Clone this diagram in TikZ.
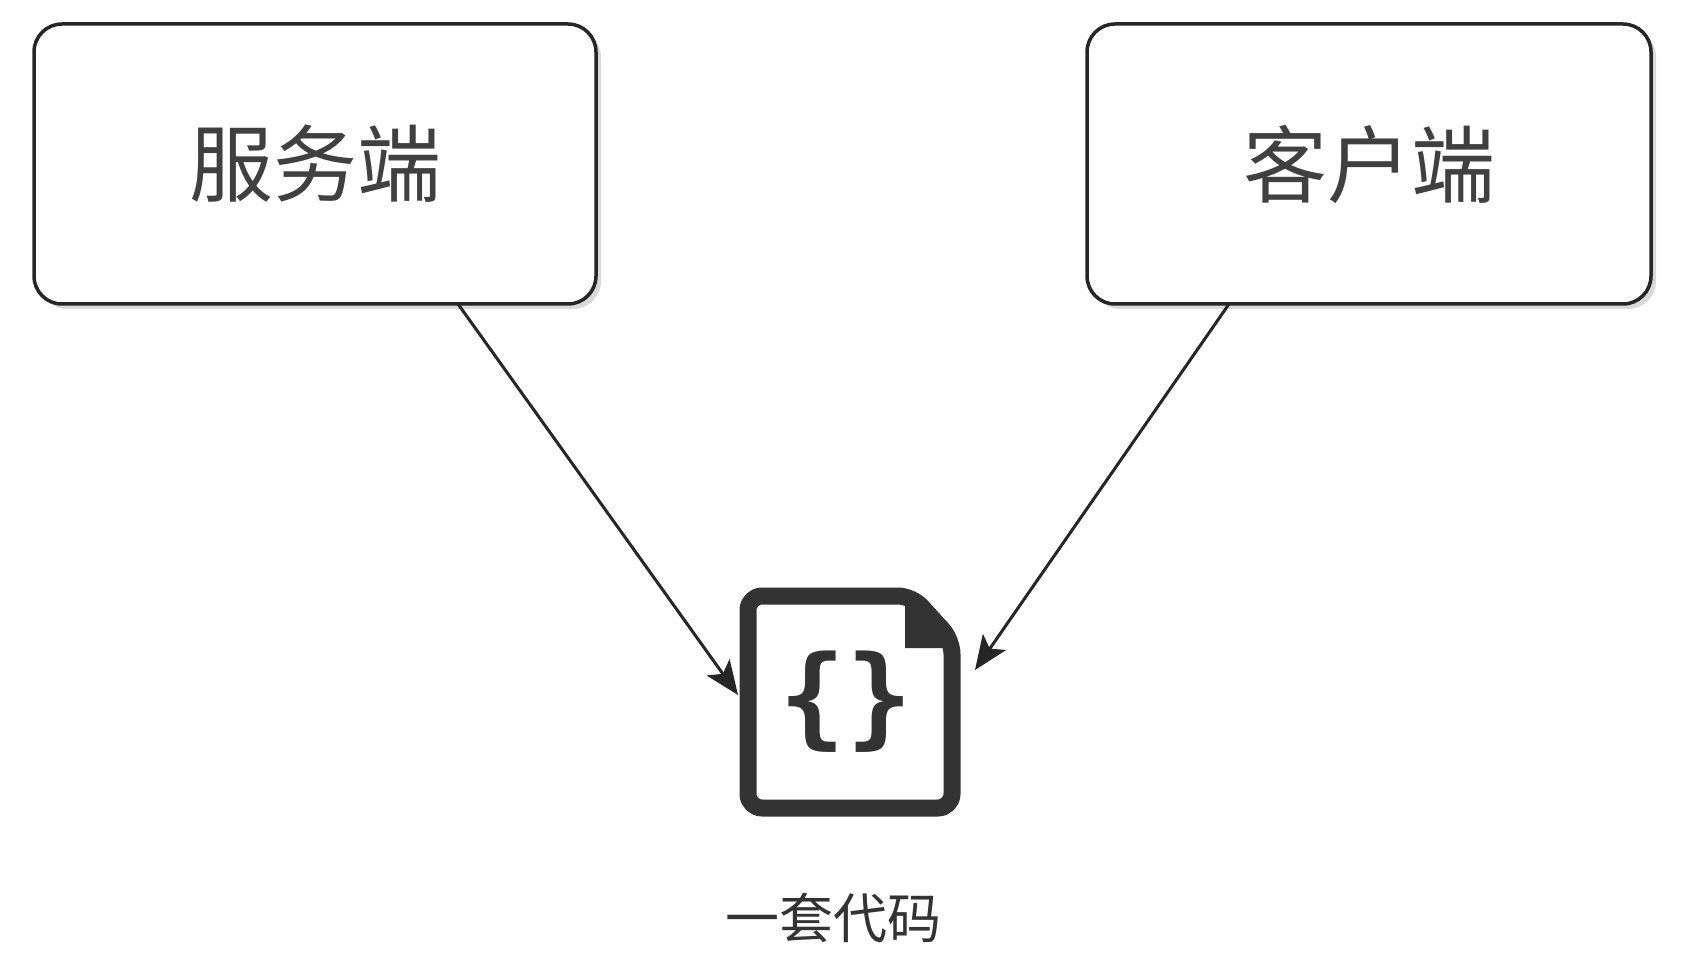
\documentclass[tikz,border=0pt]{standalone}
\usepackage{fontspec}
\newfontfamily\cjk{Noto Sans CJK SC}
\newfontfamily\bracefont{DejaVu Sans Mono}
\usetikzlibrary{arrows.meta,shadows}
\begin{document}
\begin{tikzpicture}[x=1pt,y=-1pt,
  box/.style={draw=black!85,line width=3.5pt,rounded corners=28pt,fill=white,drop shadow={opacity=0.3,shadow xshift=5pt,shadow yshift=-5pt}},
  conn/.style={draw=black!85,line width=3pt,-{Stealth[length=34pt,width=28pt,inset=8pt,fill=black!85]}}]
\useasboundingbox (0,0) rectangle (1690,976);
\node[box,minimum width=562pt,minimum height=280pt,font=\cjk\fontsize{84}{90}\selectfont,text=black!75] (srv) at (315,164) {服务端};
\node[box,minimum width=564pt,minimum height=280pt,font=\cjk\fontsize{84}{90}\selectfont,text=black!75] (cli) at (1369,164) {客户端};
\node[minimum width=222pt,minimum height=230pt,inner sep=0pt] (code) at (849,701) {};
\draw[line width=17pt,black!80,line join=round,rounded corners=14pt] (748,596) -- (912,596) -- (952,640) -- (952,808) -- (748,808) -- cycle;
\fill[black!80] (905,592) -- (957,648) -- (905,648) -- cycle;
\node[font=\bracefont\bfseries\fontsize{110}{110}\selectfont,text=black!80] (br) at (846,702) {\{\}};
\node[font=\cjk\fontsize{54}{60}\selectfont,text=black!80] (lbl) at (833,918) {一套代码};
\draw[conn] (458,304) -- (738,695);
\draw[conn] (1229,304) -- (975,670);
\end{tikzpicture}
\end{document}
